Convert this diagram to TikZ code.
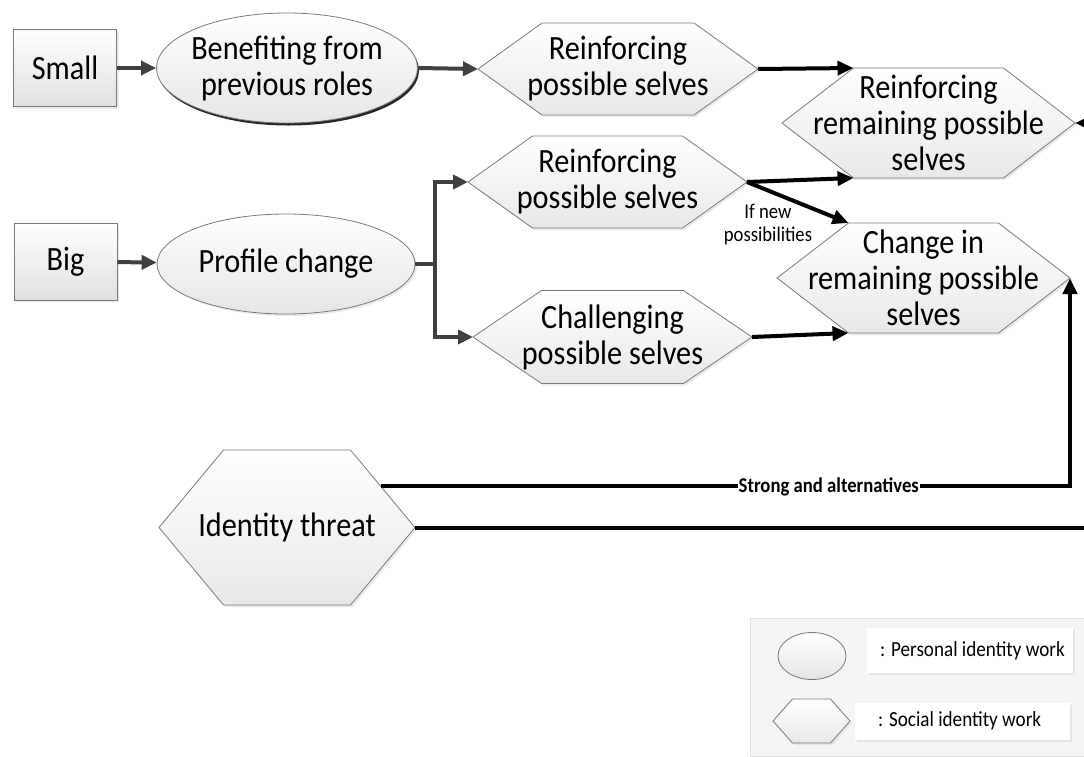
\documentclass[tikz,border=0pt]{standalone}
\usepackage{fontspec}
\setmainfont{Carlito}[FakeStretch=0.89]
\usetikzlibrary{arrows.meta,shadows,calc,shapes.geometric}

\definecolor{edgegray}{HTML}{404040}
\definecolor{outline}{HTML}{7A7A7A}

\newcommand\mainsize{\fontsize{34}{36}\selectfont}
\newcommand\notesize{\fontsize{21}{23}\selectfont}
\newcommand\keysize{\fontsize{21.5}{24}\selectfont}

\tikzset{
  softshadow/.style={drop shadow={shadow xshift=2pt, shadow yshift=-2pt, fill=black!18, opacity=0.45}},
  darkshadow/.style={drop shadow={shadow xshift=1.5pt, shadow yshift=-2.5pt, fill=black!85, opacity=1}},
  box/.style={rectangle, draw=outline, line width=0.8pt, top color=white, bottom color=black!12,
    minimum width=103pt, minimum height=77pt, font=\mainsize, softshadow},
  oval/.style={ellipse, draw=outline, line width=0.8pt, top color=white, bottom color=black!10,
    inner sep=0pt, inner xsep=-14pt, align=center, font=\mainsize},
  hexshape/.style={draw=outline, line width=0.8pt, top color=white, bottom color=black!9, softshadow},
  hextext/.style={align=center, inner sep=0pt, font=\mainsize},
  grayarrow/.style={draw=edgegray, line width=4pt, -{Triangle[length=15pt,width=14pt]}},
  grayline/.style={draw=edgegray, line width=4pt},
  blackarrow/.style={draw=black, line width=4pt, -{Triangle[length=16pt,width=14pt]}},
  note/.style={align=center, inner sep=0pt, font=\notesize},
  onlinelabel/.style={fill=white, inner xsep=1pt, inner ysep=1pt, font=\notesize\bfseries},
  keypanel/.style={rectangle, fill=black!4, draw=black!12, line width=0.5pt, anchor=north west, inner sep=0pt},
  keylabel/.style={rectangle, fill=white, anchor=north west, inner sep=0pt, softshadow},
  keytext/.style={anchor=west, inner sep=0pt, font=\keysize},
}

% hexagon: name, centre x, centre y, half width to the tips, half width of the flat edges, half height, text
\newcommand\hexbox[7]{%
  \path[hexshape] (#2-#4,#3) -- (#2-#5,#3-#6) -- (#2+#5,#3-#6) -- (#2+#4,#3)
     -- (#2+#5,#3+#6) -- (#2-#5,#3+#6) -- cycle;
  \node[hextext] (#1) at (#2,#3) {#7};
  \coordinate (#1-l) at (#2-#4,#3);
  \coordinate (#1-r) at (#2+#4,#3);
  \coordinate (#1-tl) at (#2-#5,#3-#6);
  \coordinate (#1-tr) at (#2+#5,#3-#6);
  \coordinate (#1-bl) at (#2-#5,#3+#6);
  \coordinate (#1-br) at (#2+#5,#3+#6);
}

\begin{document}
\begin{tikzpicture}[x=1pt, y=-1pt]
\useasboundingbox (0,0) rectangle (1084,756);
\clip (0,0) rectangle (1084,756);

% starting points
\node[box] (small) at (65,68) {Small};
\node[box] (big) at (65.5,261.5) {Big};

% personal identity work
\node[oval, minimum width=261pt, minimum height=110pt, darkshadow] (benefit) at (287,68)
  {Benefiting from\\previous roles};
\node[oval, minimum width=258pt, minimum height=100pt, softshadow] (profile) at (286,264)
  {Profile change};

% social identity work
\hexbox{reinfA}{618}{69}{140}{76}{46}{Reinforcing\\possible selves}
\hexbox{reinfB}{607.5}{182}{139.5}{75}{46}{Reinforcing\\possible selves}
\hexbox{chal}{612.5}{337}{139.5}{71}{46.5}{Challenging\\possible selves}
\hexbox{remain}{928.5}{123}{146.5}{75}{55}{Reinforcing\\remaining possible\\selves}
\hexbox{change}{923.5}{278}{146.5}{75}{55}{Change in\\remaining possible\\selves}
\hexbox{threat}{287}{527.5}{128}{63.5}{77.5}{Identity threat}

% connectors
\draw[grayarrow] (small) -- (benefit);
\draw[grayarrow] (benefit.east) -- (reinfA-l);
\draw[blackarrow] (reinfA-r) -- (remain-tl);

\draw[grayarrow] (big) -- (profile);
\coordinate (fork) at (435,264);
\draw[grayline] (profile.east) -- (fork);
\draw[grayarrow] (fork) |- (reinfB-l);
\draw[grayarrow] (fork) |- (chal-l);

\draw[blackarrow] (reinfB-r) -- (remain-bl);
\draw[blackarrow] (reinfB-r) -- (change-tl);
\draw[blackarrow] (chal-r) -- (change-bl);
\node[note] (ifnew) at (768,224) {If new\\possibilities};

\coordinate (threat-a) at ($(threat-tr)!0.47!(threat-r)$);
\draw[blackarrow] (threat-a) -| node[pos=0.325, onlinelabel] (strong) {Strong and alternatives} (change-r);
\coordinate (loop) at (1100,527.5);
\draw[blackarrow] (threat-r) -- (loop) |- (remain-r);

% key
\node[keypanel, minimum width=334pt, minimum height=138pt] (key) at (750,618) {};
\node[oval, minimum width=68pt, minimum height=47pt, inner xsep=0pt] (keyoval) at (812,656) {};
\node[keylabel, minimum width=206pt, minimum height=45pt] (keypers) at (867,628) {};
\node[keytext] (keypers-t) at (880,651) {: Personal identity work};
\hexbox{keyhex}{811.5}{721}{38.5}{19}{22}{}
\node[keylabel, minimum width=215pt, minimum height=37pt] (keysoc) at (855,703) {};
\node[keytext] (keysoc-t) at (878,721) {: Social identity work};
\end{tikzpicture}
\end{document}
